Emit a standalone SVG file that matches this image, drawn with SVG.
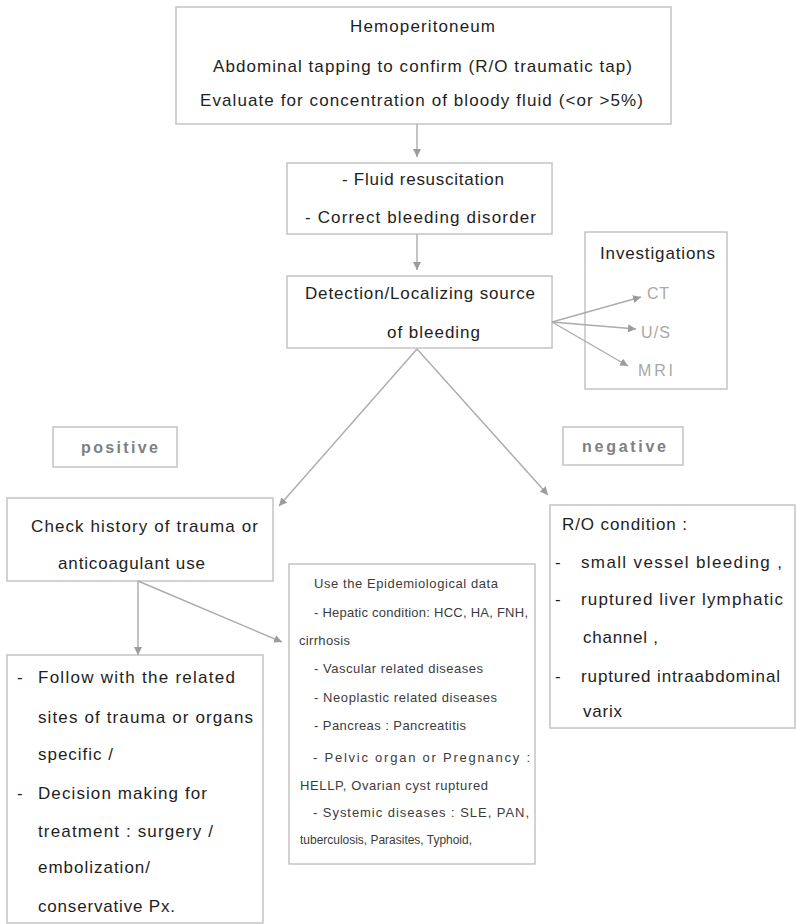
<svg xmlns="http://www.w3.org/2000/svg" width="797" height="924" viewBox="0 0 797 924">
<style>
.box{fill:#fff;stroke:#c4c4c4;stroke-width:1.5}
.t{font-family:"Liberation Sans",Arial,sans-serif;font-size:17px;fill:#1e1e1e}
.c{text-anchor:middle}
.s{font-family:"Liberation Sans",Arial,sans-serif;font-size:13px;fill:#3c3c3c}
.g{font-family:"Liberation Sans",Arial,sans-serif;font-size:16px;fill:#a8a8a8}
.lab{font-family:"Liberation Sans",Arial,sans-serif;font-size:16px;fill:#808080;font-weight:bold;text-anchor:middle}
.con{stroke:#acacac;stroke-width:1.4;fill:none;marker-end:url(#ah)}
</style>
<defs>
<marker id="ah" markerUnits="userSpaceOnUse" markerWidth="9" markerHeight="8" refX="8" refY="4" orient="auto">
<path d="M0,0 L8,4 L0,8 z" fill="#9c9c9c"/>
</marker>
</defs>
<rect width="797" height="924" fill="#fff"/>

<g id="hemoperitoneum">
<rect class="box" x="176" y="7" width="495" height="117"/>
<text class="t c" x="422.5" y="32" textLength="145" lengthAdjust="spacing">Hemoperitoneum</text>
<text class="t c" x="422.5" y="72" textLength="419" lengthAdjust="spacing">Abdominal tapping to confirm (R/O traumatic tap)</text>
<text class="t c" x="421.5" y="106" textLength="443" lengthAdjust="spacing">Evaluate for concentration of bloody fluid (&lt;or &gt;5%)</text>
</g>

<g id="resuscitation">
<rect class="box" x="287" y="163" width="265" height="71"/>
<text class="t" x="342" y="185" textLength="162" lengthAdjust="spacing">- Fluid resuscitation</text>
<text class="t" x="305" y="223" textLength="231" lengthAdjust="spacing">- Correct bleeding disorder</text>
</g>

<g id="detection">
<rect class="box" x="287" y="276" width="265" height="72"/>
<text class="t" x="305" y="299" textLength="230" lengthAdjust="spacing">Detection/Localizing source</text>
<text class="t" x="387" y="338" textLength="93" lengthAdjust="spacing">of bleeding</text>
</g>

<g id="investigations">
<rect class="box" x="585" y="232" width="142" height="157"/>
<text class="t" x="600" y="259" textLength="115" lengthAdjust="spacing">Investigations</text>
<text class="g" x="647" y="299" textLength="22" lengthAdjust="spacing">CT</text>
<text class="g" x="641" y="338" textLength="29" lengthAdjust="spacing">U/S</text>
<text class="g" x="638" y="376" textLength="35" lengthAdjust="spacing">MRI</text>
</g>

<g id="positive">
<rect class="box" x="53" y="427" width="124" height="40"/>
<text class="lab" x="119.5" y="453" textLength="77" lengthAdjust="spacing">positive</text>
</g>

<g id="negative">
<rect class="box" x="563" y="427" width="120" height="38"/>
<text class="lab" x="624" y="452" textLength="84" lengthAdjust="spacing">negative</text>
</g>

<g id="check-history">
<rect class="box" x="7" y="498" width="266" height="83"/>
<text class="t" x="31" y="532" textLength="227" lengthAdjust="spacing">Check history of trauma or</text>
<text class="t" x="58" y="569" textLength="147" lengthAdjust="spacing">anticoagulant use</text>
</g>

<g id="epidemiological">
<rect class="box" x="289" y="564" width="246" height="300"/>
<text class="s" x="314" y="588" textLength="184" lengthAdjust="spacing">Use the Epidemiological data</text>
<text class="s" x="314" y="617" textLength="214" lengthAdjust="spacing">- Hepatic condition: HCC, HA, FNH,</text>
<text class="s" x="299" y="645" textLength="51" lengthAdjust="spacing">cirrhosis</text>
<text class="s" x="314" y="673" textLength="169" lengthAdjust="spacing">- Vascular related diseases</text>
<text class="s" x="314" y="702" textLength="183" lengthAdjust="spacing">- Neoplastic related diseases</text>
<text class="s" x="314" y="730" textLength="152" lengthAdjust="spacing">- Pancreas : Pancreatitis</text>
<text class="s" x="313" y="762" textLength="217" lengthAdjust="spacing">- Pelvic organ or Pregnancy :</text>
<text class="s" x="300" y="790" textLength="188" lengthAdjust="spacing">HELLP, Ovarian cyst ruptured</text>
<text class="s" x="313" y="817" textLength="216" lengthAdjust="spacing">- Systemic diseases : SLE, PAN,</text>
<text class="s" x="300" y="844" textLength="172" lengthAdjust="spacingAndGlyphs">tuberculosis, Parasites, Typhoid,</text>
</g>

<g id="ro-condition">
<rect class="box" x="550" y="505" width="245" height="223"/>
<text class="t" x="562" y="530" textLength="125" lengthAdjust="spacing">R/O condition :</text>
<text class="t" x="555" y="568">-</text>
<text class="t" x="581" y="568" textLength="201" lengthAdjust="spacing">small vessel bleeding ,</text>
<text class="t" x="555" y="605">-</text>
<text class="t" x="581" y="605" textLength="202" lengthAdjust="spacing">ruptured liver lymphatic</text>
<text class="t" x="583" y="643" textLength="75" lengthAdjust="spacing">channel ,</text>
<text class="t" x="555" y="682">-</text>
<text class="t" x="581" y="682" textLength="199" lengthAdjust="spacing">ruptured intraabdominal</text>
<text class="t" x="583" y="717" textLength="39" lengthAdjust="spacing">varix</text>
</g>

<g id="follow-up">
<rect class="box" x="7" y="655" width="256" height="268"/>
<text class="t" x="17" y="683">-</text>
<text class="t" x="38" y="683" textLength="197" lengthAdjust="spacing">Follow with the related</text>
<text class="t" x="38" y="723" textLength="215" lengthAdjust="spacing">sites of trauma or organs</text>
<text class="t" x="38" y="760" textLength="75" lengthAdjust="spacing">specific /</text>
<text class="t" x="17" y="799">-</text>
<text class="t" x="38" y="799" textLength="169" lengthAdjust="spacing">Decision making for</text>
<text class="t" x="38" y="837" textLength="175" lengthAdjust="spacing">treatment : surgery /</text>
<text class="t" x="38" y="873" textLength="112" lengthAdjust="spacing">embolization/</text>
<text class="t" x="38" y="912" textLength="137" lengthAdjust="spacing">conservative Px.</text>
</g>

<g id="connectors">
<line class="con" x1="417" y1="124" x2="417" y2="157"/>
<line class="con" x1="417" y1="234" x2="417" y2="270"/>
<line class="con" x1="552" y1="322" x2="641" y2="297"/>
<line class="con" x1="552" y1="322" x2="636" y2="329"/>
<line class="con" x1="552" y1="322" x2="628" y2="366"/>
<line class="con" x1="417" y1="349" x2="279" y2="506"/>
<line class="con" x1="417" y1="349" x2="548" y2="495"/>
<line class="con" x1="138" y1="581" x2="138" y2="655"/>
<line class="con" x1="138" y1="581" x2="282" y2="642"/>
</g>
</svg>
